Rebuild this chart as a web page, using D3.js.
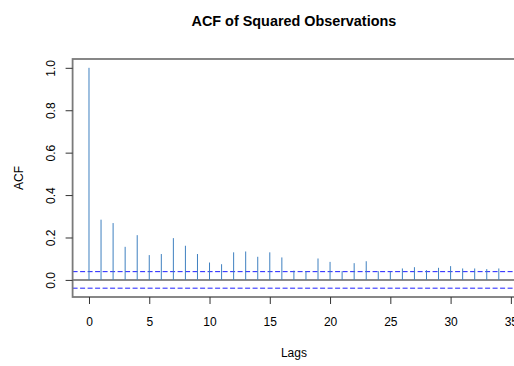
<!DOCTYPE html>
<html>
<head>
<meta charset="utf-8">
<script src="https://cdn.jsdelivr.net/npm/d3@7/dist/d3.min.js"></script>
<style>
  html, body { margin: 0; padding: 0; background: #fff; }
  svg { display: block; font-family: "Liberation Sans", Arial, sans-serif; }
</style>
</head>
<body>
<div id="chart"></div>
<script>
// Sample autocorrelation of the squared series, lags 0..34
const lags = d3.range(0, 35);
const acfValues = [
  1.000, 0.284, 0.268, 0.156, 0.211, 0.117, 0.122, 0.197, 0.161, 0.122,
  0.082, 0.074, 0.130, 0.134, 0.109, 0.130, 0.106, 0.044, 0.041, 0.101,
  0.085, 0.041, 0.079, 0.088, 0.041, 0.038, 0.054, 0.060, 0.046, 0.057,
  0.065, 0.054, 0.054, 0.051, 0.054
];
// 95% confidence bound (±1.96/sqrt(n))
const confBound = 0.039;
const xTicks = [0, 5, 10, 15, 20, 25, 30, 35];
const yTicks = [0.0, 0.2, 0.4, 0.6, 0.8, 1.0];

const width = 514, height = 366;
const plot = { left: 72.6, right: 515.2, top: 59, bottom: 297 };

const svg = d3.select("#chart").append("svg")
  .attr("width", width).attr("height", height);

// Axis ranges padded by 4% on each side, as in base graphics
const xMin = d3.min(lags), xMax = d3.max(lags);
const xPad = (xMax - xMin) * 0.04;
const x = d3.scaleLinear()
  .domain([xMin - xPad, xMax + xPad])
  .range([plot.left, plot.right]);

const yLo = Math.min(-confBound, d3.min(acfValues));
const yHi = Math.max(confBound, d3.max(acfValues));
const yPad = (yHi - yLo) * 0.04;
const y = d3.scaleLinear()
  .domain([yLo - yPad, yHi + yPad])
  .range([plot.bottom, plot.top]);

// Title
svg.append("text")
  .attr("x", (plot.left + plot.right) / 2)
  .attr("y", 25.5)
  .attr("text-anchor", "middle")
  .attr("font-size", 14.4)
  .attr("font-weight", "bold")
  .attr("fill", "#000")
  .text("ACF of Squared Observations");

// Zero reference line
svg.append("line")
  .attr("x1", plot.left).attr("x2", plot.right)
  .attr("y1", y(0)).attr("y2", y(0))
  .attr("stroke", "#8a8a8a").attr("stroke-width", 2);

// Confidence bounds
svg.selectAll("line.bound")
  .data([confBound, -confBound])
  .join("line")
  .attr("class", "bound")
  .attr("x1", plot.left).attr("x2", plot.right)
  .attr("y1", d => y(d)).attr("y2", d => y(d))
  .attr("stroke", "#1f1fff").attr("stroke-width", 1)
  .attr("stroke-dasharray", "5,2.5");

// ACF spikes
svg.selectAll("line.spike")
  .data(lags)
  .join("line")
  .attr("class", "spike")
  .attr("x1", d => x(d)).attr("x2", d => x(d))
  .attr("y1", y(0)).attr("y2", (d, i) => y(acfValues[i]))
  .attr("stroke", "#3f80c0").attr("stroke-width", 1);

// Plot frame
svg.append("rect")
  .attr("x", plot.left).attr("y", plot.top)
  .attr("width", plot.right - plot.left)
  .attr("height", plot.bottom - plot.top)
  .attr("fill", "none")
  .attr("stroke", "#7a7a7a").attr("stroke-width", 1.8);

// X axis
const gx = svg.append("g")
  .attr("transform", `translate(0,${plot.bottom})`)
  .call(d3.axisBottom(x).tickValues(xTicks).tickSize(7).tickPadding(13)
    .tickFormat(d3.format("d")));
gx.select(".domain").remove();
gx.selectAll(".tick line").attr("stroke", "#333");
gx.selectAll(".tick text")
  .attr("font-size", 12).attr("fill", "#000")
  .attr("font-family", "Liberation Sans, Arial, sans-serif");

// Y axis with labels rotated parallel to the axis
const gy = svg.append("g")
  .attr("transform", `translate(${plot.left},0)`)
  .call(d3.axisLeft(y).tickValues(yTicks).tickSize(7)
    .tickFormat(d3.format(".1f")));
gy.select(".domain").remove();
gy.selectAll(".tick line").attr("stroke", "#333");
gy.selectAll(".tick text")
  .attr("x", null).attr("dy", null)
  .attr("transform", "translate(-18,0) rotate(-90)")
  .attr("text-anchor", "middle")
  .attr("font-size", 12).attr("fill", "#000")
  .attr("font-family", "Liberation Sans, Arial, sans-serif");

// Axis titles
svg.append("text")
  .attr("x", (plot.left + plot.right) / 2)
  .attr("y", 357)
  .attr("text-anchor", "middle")
  .attr("font-size", 12)
  .text("Lags");

svg.append("text")
  .attr("transform", `translate(23,${(plot.top + plot.bottom) / 2}) rotate(-90)`)
  .attr("text-anchor", "middle")
  .attr("font-size", 12)
  .text("ACF");
</script>
</body>
</html>
